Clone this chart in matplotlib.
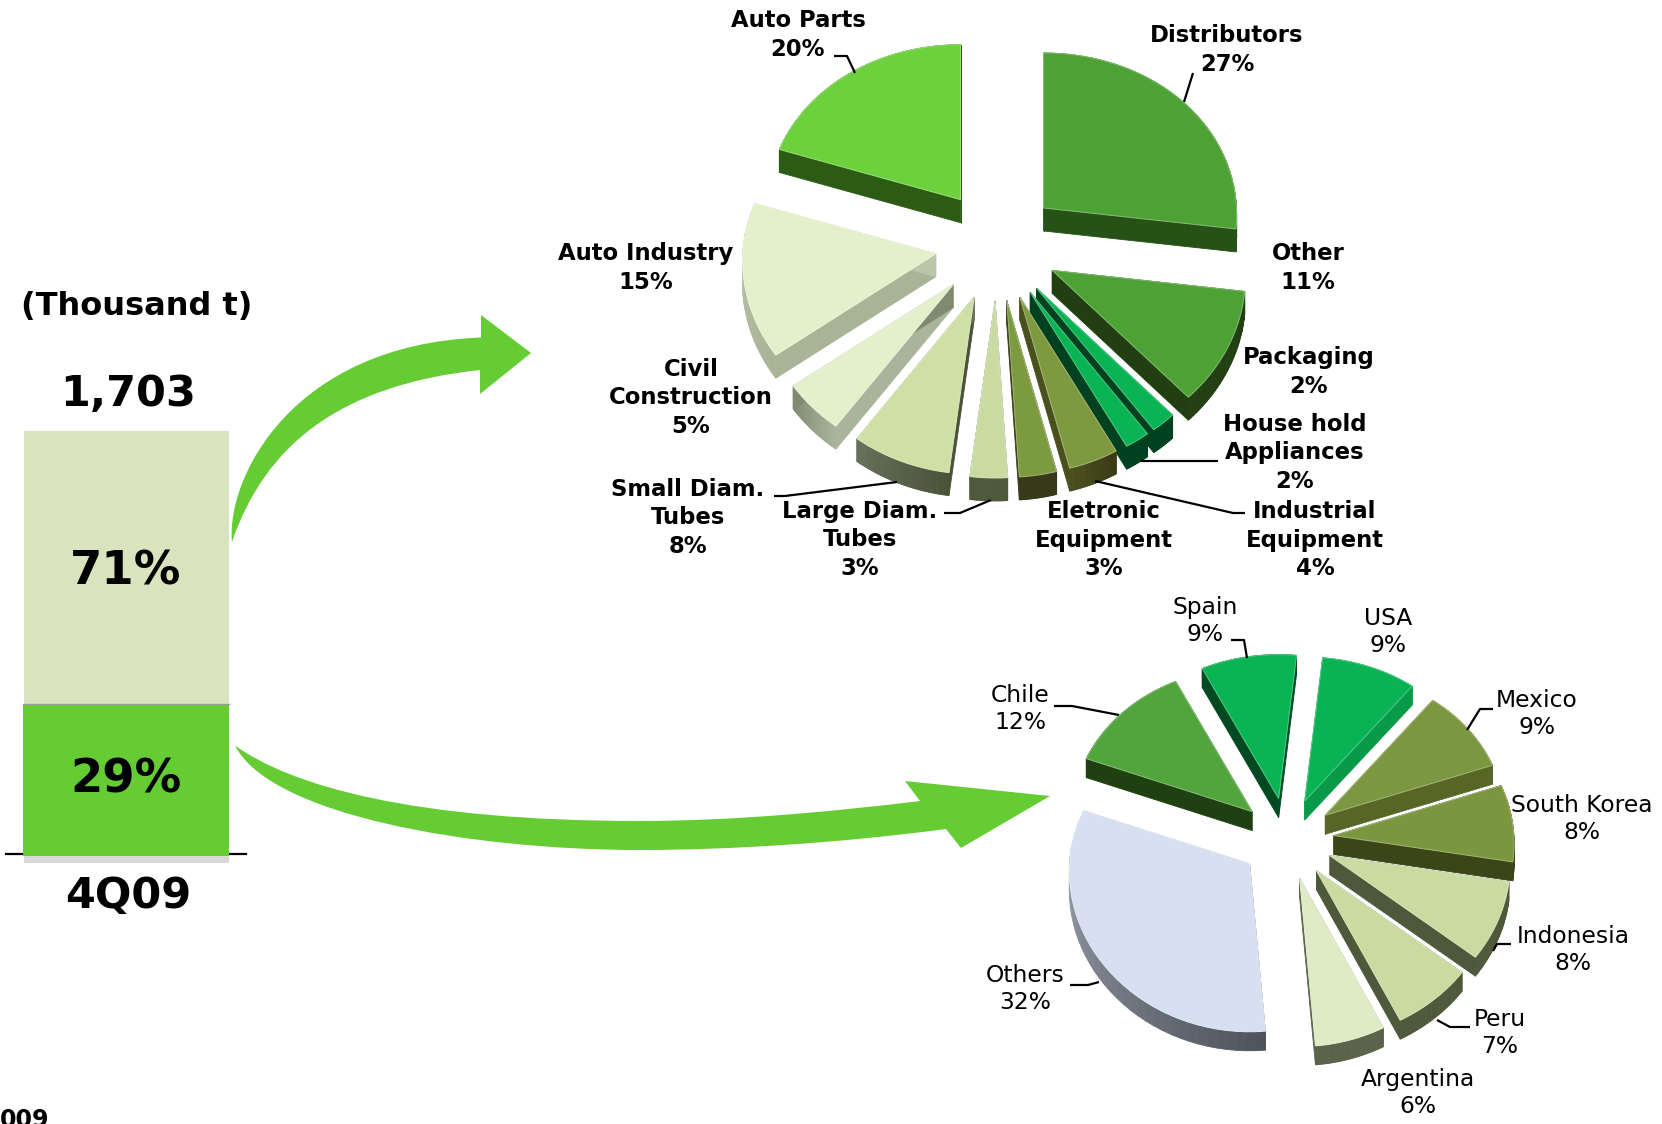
import numpy as np
import matplotlib
matplotlib.use("Agg")
import matplotlib.pyplot as plt
from matplotlib.path import Path
from matplotlib.patches import PathPatch, Polygon
from matplotlib.colors import to_rgb

# --- data
bar_labels = ["29%", "71%"]
bar_heights = [152, 273]  # the bar is not to scale
bar_total = "1,703"
bar_quarter = "4Q09"

sector_names = ["Distributors", "Other", "Packaging", "House hold\nAppliances",
                "Industrial\nEquipment", "Eletronic\nEquipment", "Large Diam.\nTubes",
                "Small Diam.\nTubes", "Civil\nConstruction", "Auto Industry", "Auto Parts"]
sector_shares = [27, 11, 2, 2, 4, 3, 3, 8, 5, 15, 20]

country_names = ["USA", "Mexico", "South Korea", "Indonesia", "Peru", "Argentina",
                 "Others", "Chile", "Spain"]
country_shares = [9, 9, 8, 8, 7, 6, 32, 12, 9]

# --- styles and label places (pixels of the 1662x1124 picture)
sector_tops = ["#4EA235", "#4EA235", "#0AB354", "#0AB354", "#7E9A41", "#7C9A3E",
               "#C9DBA0", "#CEE0A3", "#E3F0CB", "#E4F0CC", "#6CD13D"]
sector_walls = ["#275217", "#213F11", "#00421F", "#00421F", ("#3A3A14", "#4A4F1E"), "#38391A",
                "#4F5A3C", ("#4A5238", "#66705A"), ("#A9B59A", "#7F8A70"), ("#A9B496", "#BCC6AA"),
                "#2C5B14"]
sector_label_xy = [(1227, 50), (1308, 268), (1309, 372), (1295, 453), (1315, 540), (1104, 540),
                   (860, 540), (688, 518), (691, 398), (646, 268), (798, 35)]
sector_leaders = [[(1193, 73), (1184, 102)],
                  [(1218, 461), (1141, 461)],
                  [(1245, 513), (1233, 513), (1095, 481)],
                  [(944, 513), (960, 513), (991, 500)],
                  [(774, 496), (785, 496), (897, 482)],
                  [(834, 56), (847, 56), (855, 73)]]

country_tops = ["#09B354", "#7B973F", "#7A963E", "#C9DBA0", "#C9DBA0", "#DFEBC4",
                "#D6E0F1", "#52A53C", "#0AB354"]
country_walls = ["#079B49", "#576627", "#3A4518", "#4E583B", "#4E583B", "#5A6349",
                 ("#4E535C", "#A6ADBA"), "#1F4011", "#004A22"]
country_label_xy = [(1388, 632), (1537, 714), (1582, 819), (1573, 950), (1500, 1033),
                    (1418, 1093), (1025, 989), (1020, 709), (1205, 621)]
country_leaders = [[(1231, 640), (1244, 640), (1247, 658)],
                   [(1493, 709), (1480, 709), (1467, 730)],
                   [(1511, 944), (1497, 944), (1493, 951)],
                   [(1470, 1027), (1450, 1027), (1437, 1020)],
                   [(1070, 985), (1088, 985), (1099, 982)],
                   [(1054, 706), (1072, 706), (1119, 715)]]

GREEN = "#66CC33"


def mix(c1, c2, t):
    a, b = np.array(to_rgb(c1)), np.array(to_rgb(c2))
    return tuple(a + (b - a) * t)


def exploded_pie(ax, shares, start, center, explode, rx, drx, ry, dry, depth, tops, walls):
    edges = np.cumsum([0] + list(shares)) * 3.6 + start
    wedges = []
    for i in range(len(shares)):
        a0, a1 = edges[i], edges[i + 1]
        mid = np.radians((a0 + a1) / 2)
        ax_ = center[0] + explode[0] * np.sin(mid)
        ay_ = center[1] - explode[1] * np.cos(mid)
        t = np.radians(np.linspace(a0, a1, 40))
        # near side of the pie is a bit bigger than the far side
        xs = ax_ + (rx - drx * np.cos(t)) * np.sin(t)
        ys = ay_ - (ry - dry * np.cos(t)) * np.cos(t)
        wedges.append((ay_, i, np.r_[ax_, xs], np.r_[ay_, ys]))
    # back to front, the wedges lower in the picture go over the others
    for ay_, i, xs, ys in sorted(wedges, key=lambda w: w[0]):
        wall = walls[i]
        c0, c1 = wall if isinstance(wall, tuple) else (wall, wall)
        n = len(xs)
        for k in range(n):
            j = (k + 1) % n
            col = mix(c0, c1, max(k - 1, 0) / (n - 2))
            ax.add_patch(Polygon([(xs[k], ys[k]), (xs[j], ys[j]),
                                  (xs[j], ys[j] + depth), (xs[k], ys[k] + depth)],
                                 closed=True, fc=col, ec=col, lw=0.6, zorder=3 + ay_ / 2000))
        ax.add_patch(Polygon(np.c_[xs, ys], closed=True, fc=tops[i], ec=mix(tops[i], "white", 0.3),
                             lw=0.7, zorder=3 + ay_ / 2000 + 1e-4))


def put_labels(ax, names, shares, places, **kw):
    for name, share, (x, y) in zip(names, shares, places):
        ax.text(x, y, f"{name}\n{share}%", ha="center", va="center",
                color="black", zorder=6, **kw)


def put_leaders(ax, leaders):
    for pts in leaders:
        p = np.array(pts)
        ax.plot(p[:, 0], p[:, 1], color="black", lw=1.6, zorder=5, solid_capstyle="butt")


fig = plt.figure(figsize=(16.62, 11.24), dpi=100)
ax = fig.add_axes([0, 0, 1, 1])
ax.set_xlim(0, 1662)
ax.set_ylim(1124, 0)
ax.axis("off")

# stacked bar
base = 855.5
ax.bar(24, 7, width=205, bottom=base, align="edge", color="#D9D9D9", zorder=1)
ax.plot([6, 246], [854, 854], color="black", lw=1.6, zorder=1)
ax.bar(23, -bar_heights[0], width=206, bottom=base, align="edge", color=GREEN, zorder=2)
ax.bar(24, -bar_heights[1], width=205, bottom=base - bar_heights[0], align="edge",
       color="#D9E4BF", zorder=2)
ax.plot([23, 229], [base - bar_heights[0]] * 2, color="#9A9A9A", lw=1, zorder=2.5)

bold = dict(fontweight="bold", color="black", ha="center", va="center")
ax.text(137, 306, "(Thousand t)", fontsize=23, **bold)
ax.text(128.6, 394, bar_total, fontsize=31, **bold)
ax.text(126, 572, bar_labels[1], fontsize=33.5, zorder=4, **bold)
ax.text(126, 780, bar_labels[0], fontsize=33.5, zorder=4, **bold)
ax.text(128.6, 896, bar_quarter, fontsize=31, **bold)
ax.text(49, 1127, "009", fontsize=17, fontweight="bold", ha="right", va="baseline")

# curved arrows
codes = [Path.MOVETO, Path.CURVE4, Path.CURVE4, Path.CURVE4, Path.LINETO, Path.LINETO,
         Path.LINETO, Path.LINETO, Path.CURVE4, Path.CURVE4, Path.CURVE4, Path.CLOSEPOLY]
top_arrow = [(232, 542), (226, 480), (290, 345), (481, 337.5), (481, 315), (531, 353), (480, 394),
             (480, 370), (340, 385), (265, 445), (232, 542), (232, 542)]
ax.add_patch(PathPatch(Path(top_arrow, codes), fc=GREEN, ec="none", zorder=2))

low_codes = [Path.MOVETO, Path.CURVE4, Path.CURVE4, Path.CURVE4, Path.CURVE4, Path.CURVE4, Path.CURVE4,
             Path.LINETO, Path.LINETO, Path.LINETO, Path.LINETO,
             Path.CURVE4, Path.CURVE4, Path.CURVE4, Path.CURVE4, Path.CURVE4, Path.CURVE4, Path.CLOSEPOLY]
low_arrow = [(235, 745.5), (290, 785), (410, 821), (640, 821), (730, 821), (830, 812), (920, 801),
             (905, 781), (1050, 796), (961, 848), (946, 829),
             (840, 843), (730, 850), (640, 850), (470, 850), (270, 815), (235, 745.5), (235, 745.5)]
ax.add_patch(PathPatch(Path(low_arrow, low_codes), fc=GREEN, ec="none", zorder=4))

# the two exploded pies
exploded_pie(ax, sector_shares, 0, (997, 245), (62, 56), 193, 8, 166, 11, 23, sector_tops, sector_walls)
exploded_pie(ax, country_shares, 6, (1287, 839), (47, 41), 180, 9, 156, 12, 19, country_tops, country_walls)

put_leaders(ax, sector_leaders)
put_leaders(ax, country_leaders)
put_labels(ax, sector_names, sector_shares, sector_label_xy, fontsize=16.4, fontweight="bold", linespacing=1.32)
put_labels(ax, country_names, country_shares, country_label_xy, fontsize=16.8, linespacing=1.17)

fig.savefig("out.png", dpi=100)
